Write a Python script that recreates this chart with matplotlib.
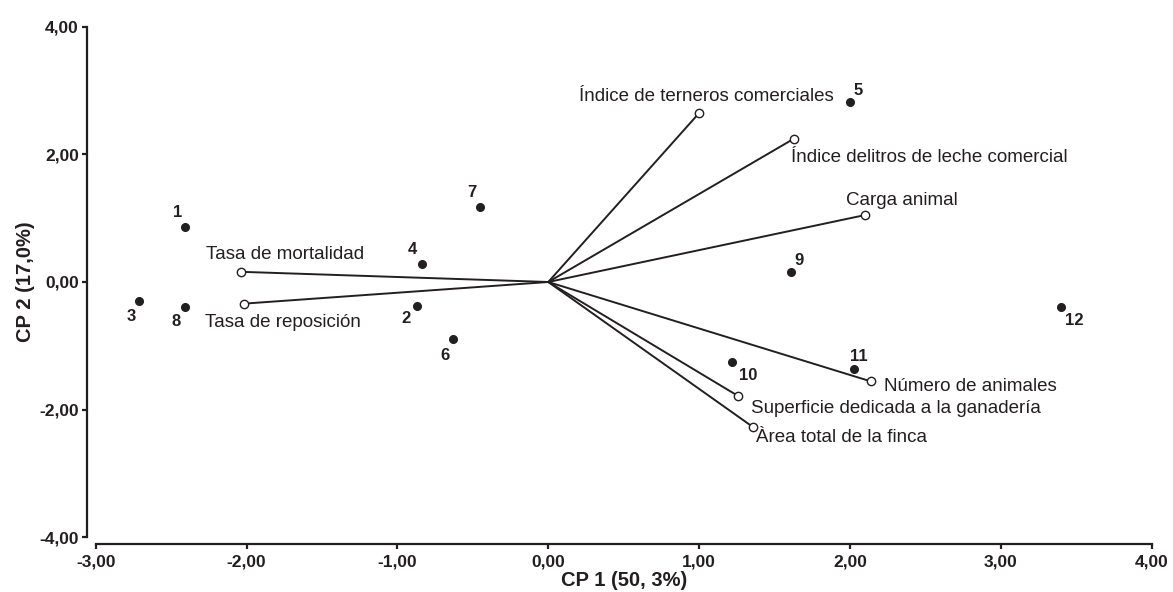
import matplotlib
matplotlib.use("Agg")
import matplotlib.pyplot as plt
from matplotlib.ticker import FuncFormatter, MultipleLocator

plt.rcParams["font.family"] = ["Liberation Sans", "DejaVu Sans"]

INK = "#231f20"

# Farm scores on the first two principal components
farm_ids = ["1", "2", "3", "4", "5", "6", "7", "8", "9", "10", "11", "12"]
farm_cp1 = [-2.41, -0.87, -2.71, -0.84, 2.00, -0.63, -0.45, -2.41, 1.61, 1.22, 2.03, 3.40]
farm_cp2 = [0.87, -0.37, -0.30, 0.28, 2.82, -0.90, 1.17, -0.39, 0.15, -1.25, -1.37, -0.40]

# Variable loadings (vector tips)
variables = [
    "Índice de terneros comerciales",
    "Índice delitros de leche comercial",
    "Carga animal",
    "Número de animales",
    "Superficie dedicada a la ganadería",
    "Àrea total de la finca",
    "Tasa de mortalidad",
    "Tasa de reposición",
]
load_cp1 = [1.00, 1.63, 2.10, 2.14, 1.26, 1.36, -2.04, -2.02]
load_cp2 = [2.65, 2.25, 1.05, -1.56, -1.79, -2.28, 0.16, -0.34]

# Label placement (pixel offsets from the marker)
var_label_offsets = [(-120, 17), (-3, -19), (-19, 15), (13, -5),
                     (13, -12), (3, -10), (-35, 17), (-39, -19)]
farm_label_offsets = [(-7.5, 14), (-10.7, -13), (-8, -15), (-8.7, 14.6),
                      (8, 11.6), (-8, -16), (-8.3, 14.7), (-8.6, -15),
                      (8, 11.6), (15.4, -14), (4, 12.4), (13, -13.4)]

fig = plt.figure(figsize=(11.73, 5.92), dpi=100)
ax = fig.add_axes([0.0816, 0.0929, 0.9002, 0.8615])

# Loading vectors from the origin
for x, y in zip(load_cp1, load_cp2):
    ax.plot([0, x], [0, y], color=INK, lw=1.4, solid_capstyle="round", zorder=2)
ax.plot(load_cp1, load_cp2, linestyle="none", marker="o", markersize=6,
        markerfacecolor="white", markeredgecolor=INK, markeredgewidth=1.0, zorder=3)

for name, x, y, (dx, dy) in zip(variables, load_cp1, load_cp2, var_label_offsets):
    ax.annotate(name, (x, y), xytext=(dx, dy), textcoords="offset pixels",
                ha="left", va="center", fontsize=13.5, color=INK)

# Farm scores
ax.plot(farm_cp1, farm_cp2, linestyle="none", marker="o", markersize=5.5,
        color=INK, zorder=4)
for name, x, y, (dx, dy) in zip(farm_ids, farm_cp1, farm_cp2, farm_label_offsets):
    ax.annotate(name, (x, y), xytext=(dx, dy), textcoords="offset pixels",
                ha="center", va="center", fontsize=12, fontweight="bold", color=INK)

ax.set_xlim(-3, 4)
ax.set_ylim(-4, 4)
ax.xaxis.set_major_locator(MultipleLocator(1))
ax.yaxis.set_major_locator(MultipleLocator(2))
fmt = FuncFormatter(lambda v, p: f"{v:.2f}".replace(".", ","))
ax.xaxis.set_major_formatter(fmt)
ax.yaxis.set_major_formatter(fmt)

for s in ("top", "right"):
    ax.spines[s].set_visible(False)
ax.spines["left"].set_position(("outward", 6.5))
ax.spines["bottom"].set_position(("outward", 5))
for s in ("left", "bottom"):
    ax.spines[s].set_linewidth(1.6)
    ax.spines[s].set_color(INK)

ax.tick_params(axis="x", pad=4)
ax.tick_params(axis="y", pad=2)
ax.tick_params(axis="both", length=3.6, width=1.6, color=INK, labelcolor=INK,
               labelsize=12.5)
for lab in ax.get_xticklabels() + ax.get_yticklabels():
    lab.set_fontweight("bold")

ax.set_xlabel("CP 1 (50, 3%)", fontsize=14.5, fontweight="bold", color=INK, labelpad=1)
ax.set_ylabel("CP 2 (17,0%)", fontsize=14.5, fontweight="bold", color=INK, labelpad=3)

fig.savefig("out.png", dpi=100)
